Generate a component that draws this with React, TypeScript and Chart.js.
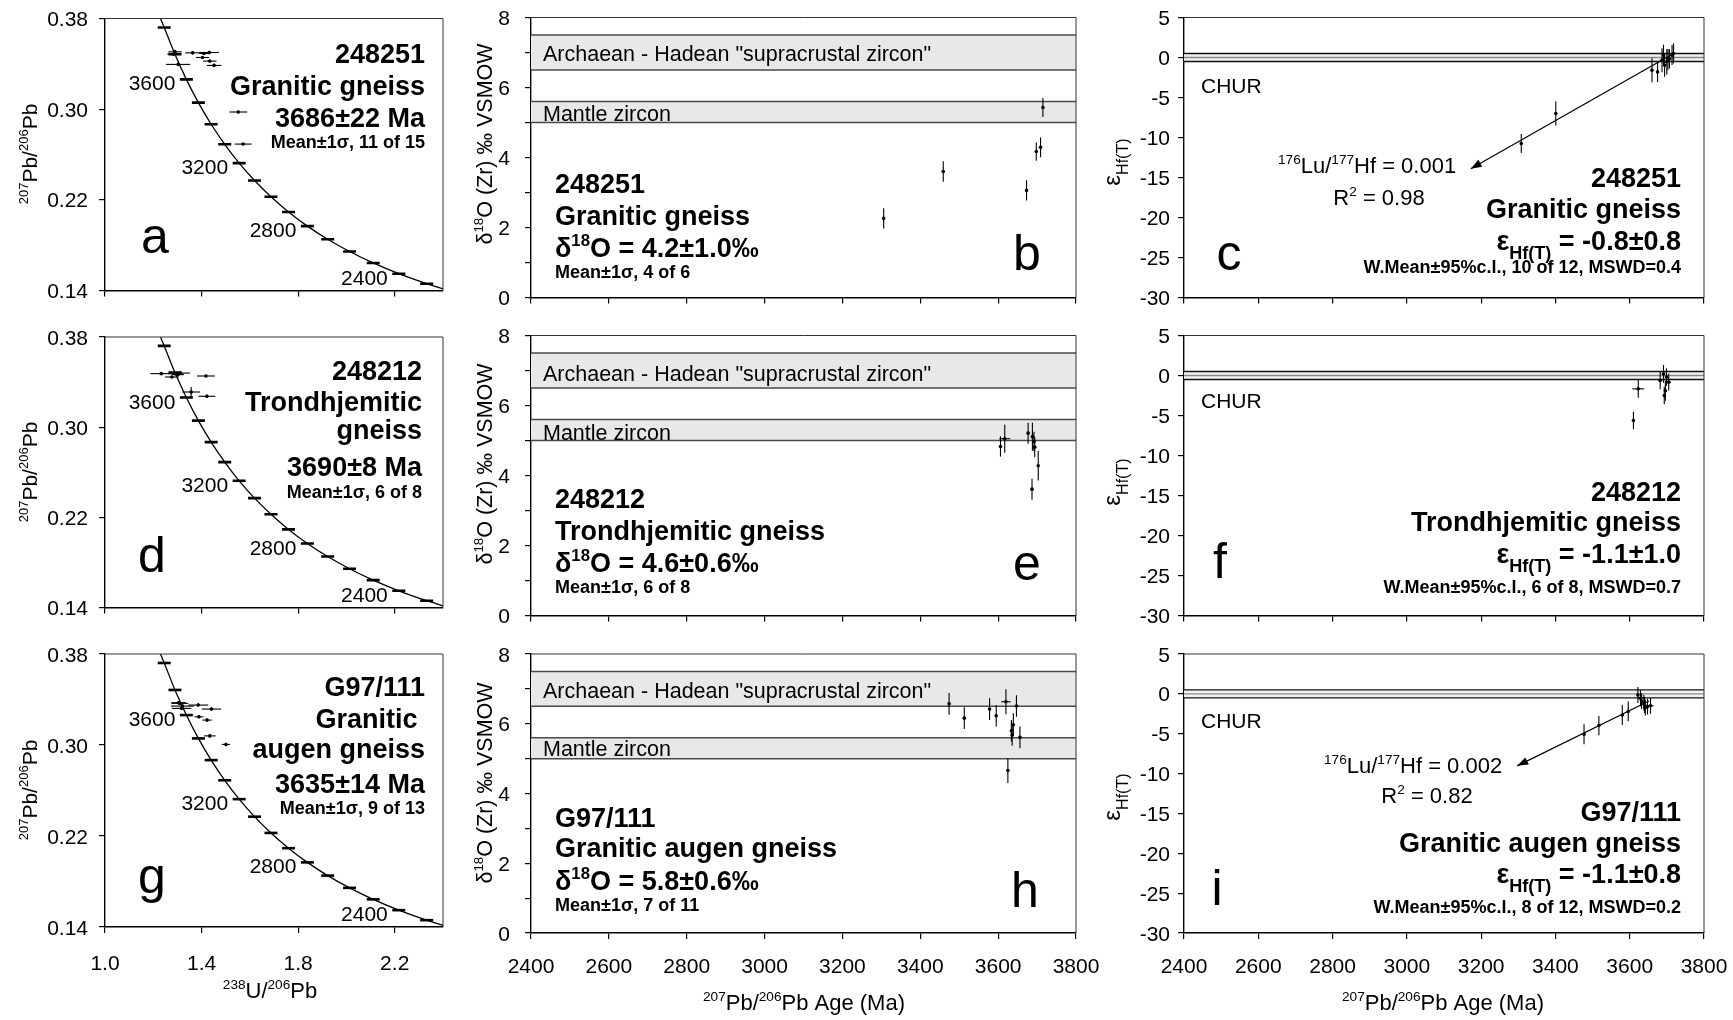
import React, { useEffect, useRef } from 'react';
import { Chart, registerables } from 'chart.js';

Chart.register(...registerables);

const FONT = "'Liberation Sans', Arial, Helvetica, sans-serif";

// ---------- Tera-Wasserburg concordia (age markers every 100 Ma) ----------
const concordiaAges = [3800, 3700, 3600, 3500, 3400, 3300, 3200, 3100, 3000, 2900, 2800, 2700, 2600, 2500, 2400, 2300];
const concordiaU238Pb206 = [1.2453, 1.2898, 1.337, 1.3868, 1.4397, 1.4959, 1.5557, 1.6194, 1.6874, 1.7602, 1.8383, 1.9223, 2.0129, 2.1108, 2.2169, 2.3324];
const concordiaPb207Pb206 = [0.3721, 0.3484, 0.3263, 0.3058, 0.2867, 0.269, 0.2524, 0.237, 0.2227, 0.2093, 0.1968, 0.1852, 0.1744, 0.1643, 0.1548, 0.146];
const concordiaLabelledAges = [3600, 3200, 2800, 2400];
const concordiaEndU238Pb206 = [1.23, 2.4];
const concordiaEndPb207Pb206 = [0.38, 0.1415];

// ---------- axis ticks ----------
const ratioXTicks = [1.0, 1.4, 1.8, 2.2];
const ratioYTicks = [0.14, 0.22, 0.3, 0.38];
const ageTicks = [2400, 2600, 2800, 3000, 3200, 3400, 3600, 3800];
const d18OTicks = [0, 1, 2, 3, 4, 5, 6, 7, 8];
const d18OLabelTicks = [0, 2, 4, 6, 8];
const epsTicks = [-30, -25, -20, -15, -10, -5, 0, 5];

// ---------- reference fields ----------
const supracrustalZirconBand = [6.5, 7.5];
const mantleZirconBand = [5.0, 5.6];
const churLines = [0.5, 0, -0.5];

// ---------- 248251 ----------
const aU238Pb206 = [1.29, 1.283, 1.303, 1.363, 1.404, 1.41, 1.432, 1.434, 1.452, 1.552, 1.572];
const aPb207Pb206 = [0.3506, 0.3486, 0.3395, 0.3497, 0.3456, 0.3491, 0.35, 0.3424, 0.3386, 0.2975, 0.2692];
const aU238Err = [0.028, 0.025, 0.05, 0.031, 0.028, 0.02, 0.04, 0.028, 0.03, 0.037, 0.035];
const aPb207Err = [0.0018, 0.0015, 0.0015, 0.0012, 0.0012, 0.0012, 0.0015, 0.0012, 0.0015, 0.001, 0.001];

const bAge = [3306, 3459, 3673, 3698, 3709, 3715];
const bD18O = [2.26, 3.6, 3.06, 4.17, 4.29, 5.43];
const bD18OErr = [0.29, 0.29, 0.29, 0.26, 0.28, 0.27];
const bAgeErr = [0, 0, 0, 0, 0, 0];

const cAge = [3308, 3401, 3660, 3675, 3687, 3691, 3694, 3700, 3703, 3707, 3714, 3718];
const cEps = [-10.75, -7.0, -1.58, -1.8, -0.33, 0.3, -0.96, -0.54, -0.25, -0.17, 0.3, 0.5];
const cEpsErr = [1.2, 1.5, 1.5, 1.25, 1.5, 1.3, 1.45, 1.6, 1.3, 1.2, 1.25, 1.25];
const cAgeErr = [0, 0, 0, 0, 0, 0, 0, 0, 0, 0, 0, 0];
const cTrendAge = [3718, 3172];
const cTrendEps = [0.5, -13.9];

// ---------- 248212 ----------
const dU238Pb206 = [1.233, 1.277, 1.291, 1.302, 1.312, 1.418, 1.357, 1.422];
const dPb207Pb206 = [0.3475, 0.3445, 0.3475, 0.3466, 0.348, 0.3454, 0.3312, 0.3274];
const dU238Err = [0.045, 0.028, 0.03, 0.025, 0.04, 0.037, 0.037, 0.035];
const dPb207Err = [0.0012, 0.0012, 0.0012, 0.0012, 0.0012, 0.0012, 0.0045, 0.0015];

const eAge = [3606, 3617, 3677, 3688, 3692, 3694, 3703, 3687];
const eD18O = [4.83, 5.05, 5.21, 5.11, 4.97, 4.81, 4.28, 3.61];
const eD18OErr = [0.29, 0.4, 0.3, 0.4, 0.28, 0.29, 0.42, 0.3];
const eAgeErr = [0, 14, 0, 0, 0, 0, 0, 0];

const fAge = [3610, 3623, 3682, 3691, 3693, 3696, 3699, 3705];
const fEps = [-5.63, -1.67, -0.63, 0.2, -2.5, -1.9, -0.2, -0.83];
const fEpsErr = [1.1, 1.1, 1.1, 1.1, 1.1, 1.25, 1.1, 1.05];
const fAgeErr = [0, 16, 0, 0, 0, 0, 0, 6];

// ---------- G97/111 ----------
const gU238Pb206 = [1.305, 1.31, 1.321, 1.317, 1.386, 1.441, 1.389, 1.423, 1.434, 1.501];
const gPb207Pb206 = [0.3372, 0.3366, 0.3342, 0.3322, 0.3351, 0.3316, 0.3248, 0.3219, 0.308, 0.3005];
const gU238Err = [0.03, 0.035, 0.048, 0.04, 0.041, 0.04, 0.018, 0.019, 0.024, 0.017];
const gPb207Err = [0.0015, 0.0015, 0.0015, 0.0015, 0.0015, 0.0015, 0.0015, 0.0015, 0.0015, 0.0015];

const hAge = [3474, 3513, 3578, 3595, 3620, 3647, 3639, 3634, 3636, 3656, 3625];
const hD18O = [6.57, 6.16, 6.42, 6.23, 6.63, 6.51, 5.97, 5.8, 5.68, 5.61, 4.66];
const hD18OErr = [0.31, 0.31, 0.31, 0.31, 0.36, 0.31, 0.33, 0.31, 0.31, 0.31, 0.36];
const hAgeErr = [0, 0, 0, 0, 12, 0, 0, 0, 0, 0, 0];

const iAge = [3477, 3517, 3580, 3596, 3622, 3629, 3632, 3638, 3640, 3642, 3648, 3656];
const iEps = [-5.07, -3.98, -2.65, -2.2, -0.14, -0.55, -0.9, -1.1, -1.4, -1.7, -1.6, -1.5];
const iEpsErr = [1.25, 1.2, 1.25, 1.25, 1.0, 1.0, 1.0, 1.0, 1.0, 1.0, 1.0, 1.0];
const iAgeErr = [0, 0, 0, 0, 0, 0, 0, 0, 0, 0, 0, 8];
const iTrendAge = [3652, 3297];
const iTrendEps = [-0.9, -9.03];

// ---------- page layout ----------
const PAGE_W = 1733;
const PAGE_H = 1020;
const LEFT_COL = { x0: 0, x1: 472, L: 105, R: 443 };
const MID_COL = { x0: 458, x1: 1112, L: 531, R: 1076 };
const RIGHT_COL = { x0: 1094, x1: 1733, L: 1184, R: 1704 };
const LEFT_ROWS = [
  { y0: 0, y1: 322, T: 18.5, B: 290.5 },
  { y0: 318, y1: 642, T: 337, B: 607.5 },
  { y0: 638, y1: 1020, T: 654, B: 927 },
];
const DATA_ROWS = [
  { y0: 0, y1: 322, T: 17.5, B: 297.5 },
  { y0: 318, y1: 642, T: 335.5, B: 615.5 },
  { y0: 638, y1: 1020, T: 654, B: 933 },
];
const AXIS_BOX = 10;

type Align = 'left' | 'center' | 'right';
interface Txt {
  s: string; x: number; y: number; size: number;
  bold?: boolean; align?: Align; rot?: boolean; bl?: boolean;
}
type Kind = 'tw' | 'o' | 'hf';
interface Panel {
  key: string; kind: Kind;
  x0: number; x1: number; y0: number; y1: number;
  L: number; R: number; T: number; B: number;
  xLabels: boolean;
  px: number[]; py: number[]; ex: number[]; ey: number[];
  trend?: { x: number[]; y: number[] };
  texts: Txt[];
}

const t = (s: string, x: number, y: number, size: number, align: Align = 'left', extra: Partial<Txt> = {}): Txt =>
  ({ s, x, y, size, align, ...extra });
const big = (s: string, x: number, y: number, align: Align) => t(s, x, y, 27, align, { bold: true });
const note = (s: string, x: number, y: number, align: Align) => t(s, x, y, 18, align, { bold: true });
const letter = (s: string, x: number, y: number) => t(s, x, y, 50, 'center', { bl: true });
const field = (s: string, y: number) => t(s, 543, y, 21.5);

const KIND: Record<Kind, any> = {
  tw: {
    xMin: 1.0, xMax: 2.4, xTicks: ratioXTicks, yMin: 0.14, yMax: 0.38, yTicks: ratioYTicks, yLabels: ratioYTicks,
    xFmt: (v: number) => v.toFixed(1), yFmt: (v: number) => v.toFixed(2), yGap: 17, xGap: 35, size: 21,
  },
  o: {
    xMin: 2400, xMax: 3800, xTicks: ageTicks, yMin: 0, yMax: 8, yTicks: d18OTicks, yLabels: d18OLabelTicks,
    xFmt: (v: number) => String(v), yFmt: (v: number) => String(v), yGap: 21, xGap: 32, size: 21,
  },
  hf: {
    xMin: 2400, xMax: 3800, xTicks: ageTicks, yMin: -30, yMax: 5, yTicks: epsTicks, yLabels: epsTicks,
    xFmt: (v: number) => String(v), yFmt: (v: number) => String(v), yGap: 14, xGap: 32, size: 21,
  },
};

const D18O_TITLE = 'δ^{18}O (Zr) ‰ VSMOW';
const EPS_TITLE = 'ε_{Hf(T)}';
const TW_TITLE = '^{207}Pb/^{206}Pb';
const AGE_TITLE = '^{207}Pb/^{206}Pb Age (Ma)';
const SUPRACRUSTAL_LABEL = 'Archaean - Hadean "supracrustal zircon"';
const MANTLE_LABEL = 'Mantle zircon';

const PANELS: Panel[] = [
  {
    key: 'a', kind: 'tw', ...LEFT_COL, ...LEFT_ROWS[0], xLabels: false,
    px: aU238Pb206, py: aPb207Pb206, ex: aU238Err, ey: aPb207Err,
    texts: [
      big('248251', 425, 53, 'right'), big('Granitic gneiss', 425, 85, 'right'), big('3686±22 Ma', 425, 117, 'right'),
      note('Mean±1σ, 11 of 15', 425, 142, 'right'), letter('a', 155, 253),
      t(TW_TITLE, 29, 154, 21, 'center', { rot: true }),
    ],
  },
  {
    key: 'b', kind: 'o', ...MID_COL, ...DATA_ROWS[0], xLabels: false,
    px: bAge, py: bD18O, ex: bAgeErr, ey: bD18OErr,
    texts: [
      field(SUPRACRUSTAL_LABEL, 53), field(MANTLE_LABEL, 113),
      big('248251', 555, 183, 'left'), big('Granitic gneiss', 555, 215, 'left'), big('δ^{18}O = 4.2±1.0‰', 555, 247, 'left'),
      note('Mean±1σ, 4 of 6', 555, 272, 'left'), letter('b', 1027, 270),
      t(D18O_TITLE, 484, 144, 21.5, 'center', { rot: true }),
    ],
  },
  {
    key: 'c', kind: 'hf', ...RIGHT_COL, ...DATA_ROWS[0], xLabels: false,
    px: cAge, py: cEps, ex: cAgeErr, ey: cEpsErr, trend: { x: cTrendAge, y: cTrendEps },
    texts: [
      t('CHUR', 1201, 85, 21), t('^{176}Lu/^{177}Hf = 0.001', 1278, 165, 22), t('R^{2} = 0.98', 1379, 197, 22, 'center'),
      big('248251', 1681, 177, 'right'), big('Granitic gneiss', 1681, 208, 'right'), big('ε_{Hf(T)} = -0.8±0.8', 1681, 240, 'right'),
      note('W.Mean±95%c.l., 10 of 12, MSWD=0.4', 1681, 267, 'right'), letter('c', 1229, 270),
      t(EPS_TITLE, 1111, 162, 24, 'center', { rot: true }),
    ],
  },
  {
    key: 'd', kind: 'tw', ...LEFT_COL, ...LEFT_ROWS[1], xLabels: false,
    px: dU238Pb206, py: dPb207Pb206, ex: dU238Err, ey: dPb207Err,
    texts: [
      big('248212', 422, 370, 'right'), big('Trondhjemitic', 422, 401.7, 'right'), big('gneiss', 422, 429, 'right'),
      big('3690±8 Ma', 422, 466, 'right'), note('Mean±1σ, 6 of 8', 422, 491.7, 'right'), letter('d', 152, 571.7),
      t(TW_TITLE, 29, 472, 21, 'center', { rot: true }),
    ],
  },
  {
    key: 'e', kind: 'o', ...MID_COL, ...DATA_ROWS[1], xLabels: false,
    px: eAge, py: eD18O, ex: eAgeErr, ey: eD18OErr,
    texts: [
      field(SUPRACRUSTAL_LABEL, 373), field(MANTLE_LABEL, 432),
      big('248212', 555, 498, 'left'), big('Trondhjemitic gneiss', 555, 530, 'left'), big('δ^{18}O = 4.6±0.6‰', 555, 562, 'left'),
      note('Mean±1σ, 6 of 8', 555, 587, 'left'), letter('e', 1027, 580),
      t(D18O_TITLE, 484, 464, 21.5, 'center', { rot: true }),
    ],
  },
  {
    key: 'f', kind: 'hf', ...RIGHT_COL, ...DATA_ROWS[1], xLabels: false,
    px: fAge, py: fEps, ex: fAgeErr, ey: fEpsErr,
    texts: [
      t('CHUR', 1201, 400, 21),
      big('248212', 1681, 491.7, 'right'), big('Trondhjemitic gneiss', 1681, 521.7, 'right'), big('ε_{Hf(T)} = -1.1±1.0', 1681, 553, 'right'),
      note('W.Mean±95%c.l., 6 of 8, MSWD=0.7', 1681, 586.7, 'right'), letter('f', 1220, 578),
      t(EPS_TITLE, 1111, 482, 24, 'center', { rot: true }),
    ],
  },
  {
    key: 'g', kind: 'tw', ...LEFT_COL, ...LEFT_ROWS[2], xLabels: true,
    px: gU238Pb206, py: gPb207Pb206, ex: gU238Err, ey: gPb207Err,
    texts: [
      big('G97/111', 425, 686.7, 'right'), big('Granitic ', 425, 718, 'right'), big('augen gneiss', 425, 748, 'right'),
      big('3635±14 Ma', 425, 783, 'right'), note('Mean±1σ, 9 of 13', 425, 808, 'right'), letter('g', 152, 893),
      t(TW_TITLE, 29, 790, 21, 'center', { rot: true }),
      t('^{238}U/^{206}Pb', 270, 990, 22, 'center'),
    ],
  },
  {
    key: 'h', kind: 'o', ...MID_COL, ...DATA_ROWS[2], xLabels: true,
    px: hAge, py: hD18O, ex: hAgeErr, ey: hD18OErr,
    texts: [
      field(SUPRACRUSTAL_LABEL, 690), field(MANTLE_LABEL, 748),
      big('G97/111', 555, 817, 'left'), big('Granitic augen gneiss', 555, 847, 'left'), big('δ^{18}O = 5.8±0.6‰', 555, 880, 'left'),
      note('Mean±1σ, 7 of 11', 555, 905, 'left'), letter('h', 1025, 906.7),
      t(D18O_TITLE, 484, 783, 21.5, 'center', { rot: true }),
      t(AGE_TITLE, 804, 1002, 22, 'center'),
    ],
  },
  {
    key: 'i', kind: 'hf', ...RIGHT_COL, ...DATA_ROWS[2], xLabels: true,
    px: iAge, py: iEps, ex: iAgeErr, ey: iEpsErr, trend: { x: iTrendAge, y: iTrendEps },
    texts: [
      t('CHUR', 1201, 720, 21), t('^{176}Lu/^{177}Hf = 0.002', 1324, 765, 22), t('R^{2} = 0.82', 1427, 795, 22, 'center'),
      big('G97/111', 1681, 811.7, 'right'), big('Granitic augen gneiss', 1681, 842.7, 'right'), big('ε_{Hf(T)} = -1.1±0.8', 1681, 873, 'right'),
      note('W.Mean±95%c.l., 8 of 12, MSWD=0.2', 1681, 906.7, 'right'), letter('i', 1217, 905),
      t(EPS_TITLE, 1111, 797, 24, 'center', { rot: true }),
      t(AGE_TITLE, 1443, 1002, 22, 'center'),
    ],
  },
];

// ---------- text with ^{sup} and _{sub} runs ----------
function parseRich(s: string) {
  const out: { t: string; v: number }[] = [];
  const re = /([\^_])\{([^}]*)\}/g;
  let last = 0;
  let m: RegExpExecArray | null;
  while ((m = re.exec(s))) {
    if (m.index > last) out.push({ t: s.slice(last, m.index), v: 0 });
    out.push({ t: m[2], v: m[1] === '^' ? 1 : -1 });
    last = re.lastIndex;
  }
  if (last < s.length) out.push({ t: s.slice(last), v: 0 });
  return out;
}

function drawText(ctx: CanvasRenderingContext2D, tx: Txt) {
  const segs = parseRich(tx.s);
  const fontFor = (v: number) => {
    const sz = v === 1 ? tx.size * 0.62 : v === -1 ? tx.size * 0.67 : tx.size;
    return `${tx.bold ? 'bold ' : ''}${sz}px ${FONT}`;
  };
  let total = 0;
  const widths = segs.map((sg) => {
    ctx.font = fontFor(sg.v);
    const w = ctx.measureText(sg.t).width;
    total += w;
    return w;
  });
  ctx.save();
  ctx.translate(tx.x, tx.y);
  if (tx.rot) ctx.rotate(-Math.PI / 2);
  let cx = tx.align === 'right' ? -total : tx.align === 'center' ? -total / 2 : 0;
  const base = tx.bl ? 0 : 0.36 * tx.size;
  ctx.fillStyle = '#000';
  ctx.textAlign = 'left';
  ctx.textBaseline = 'alphabetic';
  segs.forEach((sg, i) => {
    ctx.font = fontFor(sg.v);
    const dy = sg.v === 1 ? -0.4 * tx.size : sg.v === -1 ? 0.33 * tx.size : 0;
    ctx.fillText(sg.t, cx, base + dy);
    cx += widths[i];
  });
  ctx.restore();
}

function hLine(ctx: CanvasRenderingContext2D, x1: number, x2: number, y: number) {
  ctx.beginPath();
  ctx.moveTo(x1, y);
  ctx.lineTo(x2, y);
  ctx.stroke();
}

function decorPlugin(p: Panel) {
  const k = KIND[p.kind];
  return {
    id: 'panelDecor',
    beforeDatasetsDraw(chart: any) {
      const { ctx, chartArea: a, scales } = chart;
      const xs = scales.x;
      const ys = scales.y;
      ctx.save();
      if (p.kind === 'o') {
        [supracrustalZirconBand, mantleZirconBand].forEach((band) => {
          const yTop = ys.getPixelForValue(band[1]);
          const yBot = ys.getPixelForValue(band[0]);
          ctx.fillStyle = '#e8e8e8';
          ctx.fillRect(a.left, yTop, a.right - a.left, yBot - yTop);
          ctx.strokeStyle = '#4a4a4a';
          ctx.lineWidth = 1.5;
          hLine(ctx, a.left, a.right, yTop);
          hLine(ctx, a.left, a.right, yBot);
        });
      }
      if (p.kind === 'hf') {
        const yTop = ys.getPixelForValue(churLines[0]);
        const yBot = ys.getPixelForValue(churLines[2]);
        ctx.fillStyle = '#f2f2f2';
        ctx.fillRect(a.left, yTop, a.right - a.left, yBot - yTop);
        churLines.forEach((v, i) => {
          ctx.strokeStyle = i === 1 ? '#8a8a8a' : '#111';
          ctx.lineWidth = 1.3;
          hLine(ctx, a.left, a.right, ys.getPixelForValue(v));
        });
      }
      // error bars
      ctx.strokeStyle = '#000';
      ctx.lineWidth = 1.1;
      p.px.forEach((xv, i) => {
        const yv = p.py[i];
        const cx = xs.getPixelForValue(xv);
        const cy = ys.getPixelForValue(yv);
        if (p.ey[i]) {
          ctx.beginPath();
          ctx.moveTo(cx, ys.getPixelForValue(yv + p.ey[i]));
          ctx.lineTo(cx, ys.getPixelForValue(yv - p.ey[i]));
          ctx.stroke();
        }
        if (p.ex[i]) {
          hLine(ctx, xs.getPixelForValue(xv - p.ex[i]), xs.getPixelForValue(xv + p.ex[i]), cy);
        }
      });
      ctx.restore();
    },
    afterDatasetsDraw(chart: any) {
      const { ctx, chartArea: a, scales } = chart;
      const xs = scales.x;
      const ys = scales.y;
      ctx.save();
      if (p.trend) {
        const x1 = xs.getPixelForValue(p.trend.x[0]);
        const y1 = ys.getPixelForValue(p.trend.y[0]);
        const x2 = xs.getPixelForValue(p.trend.x[1]);
        const y2 = ys.getPixelForValue(p.trend.y[1]);
        const ang = Math.atan2(y2 - y1, x2 - x1);
        const len = 11;
        const hw = 4;
        const bx = x2 - len * Math.cos(ang);
        const by = y2 - len * Math.sin(ang);
        ctx.fillStyle = '#000';
        ctx.beginPath();
        ctx.moveTo(x2, y2);
        ctx.lineTo(bx - hw * Math.sin(ang), by + hw * Math.cos(ang));
        ctx.lineTo(bx + hw * Math.sin(ang), by - hw * Math.cos(ang));
        ctx.closePath();
        ctx.fill();
      }
      // top and right edges of the frame
      ctx.strokeStyle = '#333';
      ctx.lineWidth = 1;
      ctx.beginPath();
      ctx.moveTo(a.left, a.top);
      ctx.lineTo(a.right, a.top);
      ctx.lineTo(a.right, a.bottom);
      ctx.stroke();
      // concordia age labels
      if (p.kind === 'tw') {
        concordiaLabelledAges.forEach((age) => {
          const idx = concordiaAges.indexOf(age);
          const mx = xs.getPixelForValue(concordiaU238Pb206[idx]);
          const my = ys.getPixelForValue(concordiaPb207Pb206[idx]);
          drawText(ctx, { s: String(age), x: mx - 11, y: my + 3.5, size: 21, align: 'right' });
        });
      }
      ctx.restore();
    },
    afterDraw(chart: any) {
      const { ctx, chartArea: a, scales } = chart;
      ctx.save();
      k.yLabels.forEach((v: number) => {
        drawText(ctx, { s: k.yFmt(v), x: a.left - k.yGap, y: scales.y.getPixelForValue(v), size: k.size, align: 'right' });
      });
      if (p.xLabels) {
        k.xTicks.forEach((v: number) => {
          drawText(ctx, { s: k.xFmt(v), x: scales.x.getPixelForValue(v), y: a.bottom + k.xGap, size: k.size, align: 'center' });
        });
      }
      ctx.translate(-p.x0, -p.y0);
      p.texts.forEach((tx) => drawText(ctx, tx));
      ctx.restore();
    },
  };
}

function makeConfig(p: Panel): any {
  const k = KIND[p.kind];
  const datasets: any[] = [];
  if (p.kind === 'tw') {
    const curve = [
      { x: concordiaEndU238Pb206[0], y: concordiaEndPb207Pb206[0] },
      ...concordiaU238Pb206.map((x, i) => ({ x, y: concordiaPb207Pb206[i] })),
      { x: concordiaEndU238Pb206[1], y: concordiaEndPb207Pb206[1] },
    ];
    datasets.push({
      data: curve, showLine: true, borderColor: '#000', borderWidth: 1.3, pointRadius: 0,
      cubicInterpolationMode: 'monotone', fill: false,
    });
    datasets.push({
      data: concordiaU238Pb206.map((x, i) => ({ x, y: concordiaPb207Pb206[i] })),
      pointStyle: 'line', pointRadius: 6.5, pointBorderWidth: 2.6, pointBorderColor: '#000', showLine: false,
    });
  }
  if (p.trend) {
    datasets.push({
      data: p.trend.x.map((x, i) => ({ x, y: p.trend!.y[i] })),
      showLine: true, borderColor: '#000', borderWidth: 1.2, pointRadius: 0, fill: false,
    });
  }
  datasets.push({
    data: p.px.map((x, i) => ({ x, y: p.py[i] })),
    pointRadius: 1.8, pointBackgroundColor: '#000', pointBorderWidth: 0, showLine: false,
  });

  const axisCommon = {
    type: 'linear',
    ticks: { display: false },
    grid: { display: true, drawOnChartArea: false, drawTicks: true, tickLength: 6, color: '#000', lineWidth: 1.2 },
    border: { display: true, color: '#000', width: 1.4 },
  };
  return {
    type: 'scatter',
    data: { datasets },
    options: {
      animation: false,
      responsive: false,
      devicePixelRatio: 1,
      events: [],
      layout: {
        autoPadding: false,
        padding: {
          left: p.L - p.x0 - AXIS_BOX,
          top: p.T - p.y0,
          right: p.x1 - p.R,
          bottom: p.y1 - p.B - AXIS_BOX,
        },
      },
      plugins: { legend: { display: false }, tooltip: { enabled: false }, title: { display: false } },
      scales: {
        x: {
          ...axisCommon, position: 'bottom', min: k.xMin, max: k.xMax,
          afterBuildTicks: (s: any) => { s.ticks = k.xTicks.map((v: number) => ({ value: v })); },
          afterFit: (s: any) => { s.height = AXIS_BOX; },
        },
        y: {
          ...axisCommon, position: 'left', min: k.yMin, max: k.yMax,
          afterBuildTicks: (s: any) => { s.ticks = k.yTicks.map((v: number) => ({ value: v })); },
          afterFit: (s: any) => { s.width = AXIS_BOX; },
        },
      },
    },
    plugins: [decorPlugin(p)],
  };
}

export default function App() {
  const refs = useRef<(HTMLCanvasElement | null)[]>([]);
  useEffect(() => {
    const charts = PANELS.map((p, i) => new Chart(refs.current[i] as HTMLCanvasElement, makeConfig(p)));
    return () => charts.forEach((c) => c.destroy());
  }, []);
  return (
    <div style={{ position: 'fixed', left: 0, top: 0, width: PAGE_W, height: PAGE_H, background: '#fff', overflow: 'hidden' }}>
      {PANELS.map((p, i) => (
        <canvas
          key={p.key}
          ref={(el) => { refs.current[i] = el; }}
          width={p.x1 - p.x0}
          height={p.y1 - p.y0}
          style={{ position: 'absolute', left: p.x0, top: p.y0, width: p.x1 - p.x0, height: p.y1 - p.y0 }}
        />
      ))}
    </div>
  );
}
